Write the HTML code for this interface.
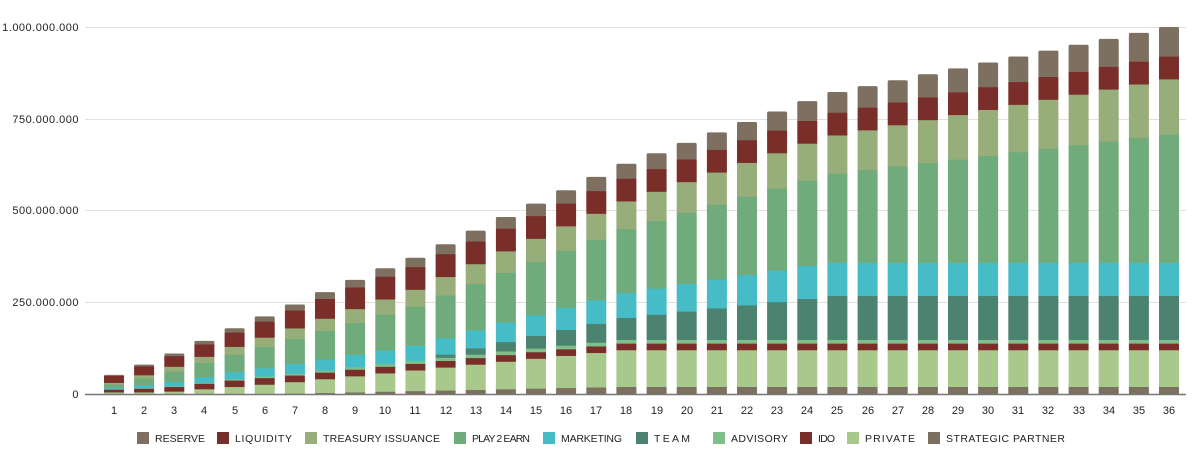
<!DOCTYPE html>
<html><head><meta charset="utf-8"><style>
html,body{margin:0;padding:0;background:#fff;}
svg{display:block;font-family:"Liberation Sans",sans-serif;}
</style></head><body>
<svg id="c" width="1200" height="467" viewBox="0 0 1200 467">
<g stroke="#e4e0d8" stroke-width="1">
<line x1="85" x2="1186" y1="27.5" y2="27.5"/>
<line x1="85" x2="1186" y1="119.5" y2="119.5"/>
<line x1="85" x2="1186" y1="210.5" y2="210.5"/>
<line x1="85" x2="1186" y1="302.5" y2="302.5"/>
</g>
<g font-size="11" fill="#222" text-anchor="end" letter-spacing="0.5">
<text x="79" y="31">1.000.000.000</text>
<text x="79" y="123">750.000.000</text>
<text x="79" y="214">500.000.000</text>
<text x="79" y="306">250.000.000</text>
<text x="79" y="398">0</text>
</g>
<g id="bars"></g>
<line x1="85" x2="1186" y1="394.5" y2="394.5" stroke="#777" stroke-width="1.5"/>
<g id="xl" font-size="11" fill="#222" text-anchor="middle">
<text x="114" y="414">1</text><text x="144" y="414">2</text><text x="174" y="414">3</text><text x="204" y="414">4</text><text x="235" y="414">5</text><text x="265" y="414">6</text><text x="295" y="414">7</text><text x="325" y="414">8</text><text x="355" y="414">9</text><text x="385" y="414">10</text><text x="415" y="414">11</text><text x="446" y="414">12</text><text x="476" y="414">13</text><text x="506" y="414">14</text><text x="536" y="414">15</text><text x="566" y="414">16</text><text x="596" y="414">17</text><text x="626" y="414">18</text><text x="657" y="414">19</text><text x="687" y="414">20</text><text x="717" y="414">21</text><text x="747" y="414">22</text><text x="777" y="414">23</text><text x="807" y="414">24</text><text x="837" y="414">25</text><text x="868" y="414">26</text><text x="898" y="414">27</text><text x="928" y="414">28</text><text x="958" y="414">29</text><text x="988" y="414">30</text><text x="1018" y="414">31</text><text x="1048" y="414">32</text><text x="1079" y="414">33</text><text x="1109" y="414">34</text><text x="1139" y="414">35</text><text x="1169" y="414">36</text>
</g>
<g font-size="10.5" fill="#222">
<rect x="137" y="432" width="12" height="12" fill="#7d7060"/><text x="155" y="442" textLength="50">RESERVE</text>
<rect x="217" y="432" width="12" height="12" fill="#7a2e2a"/><text x="235" y="442" textLength="57">LIQUIDITY</text>
<rect x="305" y="432" width="12" height="12" fill="#98ae7a"/><text x="323" y="442" textLength="117">TREASURY ISSUANCE</text>
<rect x="454" y="432" width="12" height="12" fill="#70ab7c"/><text x="472" y="442" textLength="58">PLAY 2 EARN</text>
<rect x="543" y="432" width="12" height="12" fill="#45bcc6"/><text x="561" y="442" textLength="61">MARKETING</text>
<rect x="636" y="432" width="12" height="12" fill="#4c8270"/><text x="654" y="442" textLength="36">TEAM</text>
<rect x="713" y="432" width="12" height="12" fill="#7fbf8a"/><text x="731" y="442" textLength="57">ADVISORY</text>
<rect x="800" y="432" width="12" height="12" fill="#7a2e2a"/><text x="818" y="442" textLength="17">IDO</text>
<rect x="847" y="432" width="12" height="12" fill="#a9c98c"/><text x="865" y="442" textLength="50">PRIVATE</text>
<rect x="928" y="432" width="12" height="12" fill="#7d7060"/><text x="946" y="442" textLength="119">STRATEGIC PARTNER</text>
</g>
</svg>
<script>
(function(){
var g=document.getElementById('bars'),ns='http://www.w3.org/2000/svg';
function mn(a,b){return a<b?a:b;}
function mx(a,b){return a>b?a:b;}
var series=[
 ['#7d7060',function(m){return mn(20,mx(1,(m-6)*1.7));}],
 ['#a9c98c',function(m){return mn(100,mx(4,(m-2)*6.25));}],
 ['#7a2e2a',function(m){return mn(18,5+m*2.5);}],
 ['#7fbf8a',function(m){return mn(10,m*10/14);}],
 ['#4c8270',function(m){return m<=11?0:mn(120,(m-11)*120/14);}],
 ['#45bcc6',function(m){return mn(90,m*3.75);}],
 ['#70ab7c',function(m){return m*350/36;}],
 ['#98ae7a',function(m){return m*150/36;}],
 ['#7a2e2a',function(m){return mn(62,14+m*5);}],
 ['#7d7060',function(m){return m*80/36;}]
];
var k=0.367;
for(var m=1;m<=36;m++){
 var cx=114+(m-1)*(1169-114)/35, y=394;
 for(var s=0;s<series.length;s++){
  var v=series[s][1](m)*k; if(v<=0)continue;
  var r=document.createElementNS(ns,'rect');
  r.setAttribute('x',(cx-10).toFixed(1));r.setAttribute('width','20');
  r.setAttribute('y',(y-v).toFixed(2));r.setAttribute('height',(v+0.3).toFixed(2));
  r.setAttribute('fill',series[s][0]);
  if(s==series.length-1){r.setAttribute('rx','1.5');}
  g.appendChild(r); y-=v;
 }
}
})();
</script>
</body></html>
